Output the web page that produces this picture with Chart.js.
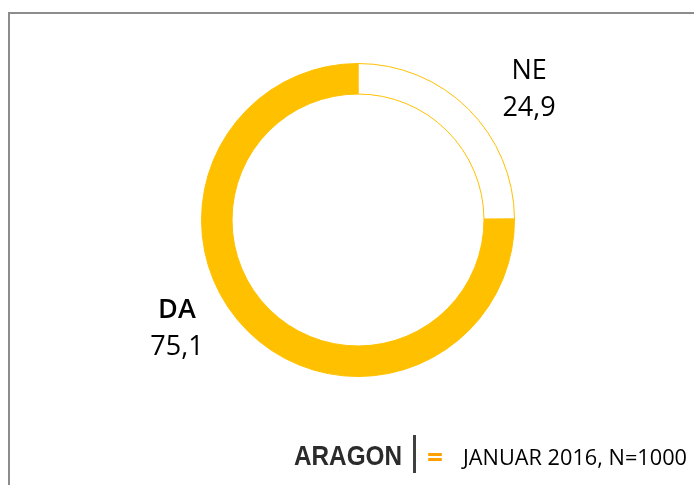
<!DOCTYPE html>
<html lang="hr">
<head>
  <meta charset="UTF-8">
  <title>DA / NE</title>
  <script src="https://cdn.jsdelivr.net/npm/chart.js"></script>
  <style>
    html, body { margin: 0; padding: 0; background: #fff; overflow: hidden; }
    #wrap { position: relative; width: 694px; height: 485px; }
  </style>
</head>
<body>
<div id="wrap">
  <canvas id="grafico" width="694" height="485"></canvas>
</div>

<script>
  // podaci
  const kategorije = ['NE', 'DA'];
  const vrijednosti = [24.9, 75.1];
  const boje = ['#FFFFFF', '#FFC000'];
  const izvor = 'JANUAR 2016, N=1000';

  function fmt(v) {
    return v.toFixed(1).replace('.', ',');
  }

  // oznake kraj prstena + okvir i potpis
  const dodaci = {
    id: 'dodaci',
    afterDatasetsDraw(chart) {
      const ctx = chart.ctx;
      const arcs = chart.getDatasetMeta(0).data;
      ctx.save();
      ctx.fillStyle = '#000';
      ctx.textAlign = 'center';
      ctx.textBaseline = 'alphabetic';
      arcs.forEach((arc, i) => {
        const p = arc.getProps(['x', 'y', 'startAngle', 'endAngle', 'outerRadius'], true);
        const mid = (p.startAngle + p.endAngle) / 2 + 11 * Math.PI / 180;
        const r = p.outerRadius * 1.36;
        const bx = p.x + r * Math.cos(mid) - 5;
        const by = p.y + r * Math.sin(mid) - 13;
        ctx.font = (i === 1 ? '600 ' : '') + '27px "Open Sans"';
        ctx.fillText(kategorije[i], bx, by - 8.5);
        ctx.font = '27px "Open Sans"';
        ctx.fillText(fmt(vrijednosti[i]), bx, by + 28.5);
      });
      ctx.restore();
    },
    afterDraw(chart) {
      const ctx = chart.ctx;
      ctx.save();
      // okvir
      ctx.strokeStyle = '#8c8c8c';
      ctx.lineWidth = 2;
      ctx.beginPath();
      ctx.moveTo(9, 485);
      ctx.lineTo(9, 13);
      ctx.lineTo(694, 13);
      ctx.stroke();
      // logo
      ctx.textBaseline = 'alphabetic';
      ctx.textAlign = 'left';
      ctx.fillStyle = '#2b2b2b';
      ctx.font = 'bold 28px "Liberation Sans"';
      ctx.fillText('ARAGON', 294, 465, 108);
      ctx.fillStyle = '#404040';
      ctx.fillRect(413, 435, 3, 38);
      ctx.fillStyle = '#FFA000';
      ctx.font = 'bold 28px "Open Sans"';
      ctx.fillText('=', 427, 467);
      ctx.fillStyle = '#000';
      ctx.font = '22px "Open Sans"';
      ctx.fillText(izvor, 463, 465, 224);
      ctx.restore();
    }
  };

  new Chart(document.getElementById('grafico').getContext('2d'), {
    type: 'doughnut',
    data: {
      labels: kategorije,
      datasets: [{
        data: vrijednosti,
        backgroundColor: boje,
        borderColor: '#FFC000',
        borderWidth: 1
      }]
    },
    options: {
      responsive: false,
      animation: false,
      cutout: '80.5%',
      layout: {
        padding: { left: 201, right: 179, top: 63, bottom: 108 }
      },
      plugins: {
        legend: { display: false },
        tooltip: { enabled: false }
      }
    },
    plugins: [dodaci]
  });
</script>
</body>
</html>
